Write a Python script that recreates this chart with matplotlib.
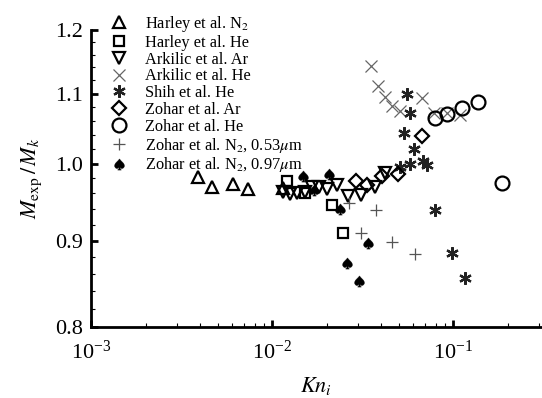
import matplotlib
matplotlib.use("Agg")
import matplotlib.pyplot as plt
from matplotlib.ticker import FixedLocator, FixedFormatter, LogLocator, NullFormatter

plt.rcParams['font.family'] = ['Liberation Serif', 'DejaVu Serif']
plt.rcParams['mathtext.fontset'] = 'stix'

# Harley et al. N2
harley_n2_kn = [0.0039, 0.00467, 0.0061, 0.00736, 0.0115]
harley_n2_m = [0.982, 0.969, 0.973, 0.966, 0.967]

# Harley et al. He
harley_he_kn = [0.0121, 0.0152, 0.0214, 0.0247]
harley_he_m = [0.976, 0.961, 0.945, 0.910]

# Arkilic et al. Ar
arkilic_ar_kn = [0.0115, 0.01256, 0.01374, 0.0152, 0.01663, 0.0182,
                 0.0201, 0.0229, 0.0263, 0.0310, 0.0371, 0.0421]
arkilic_ar_m = [0.962, 0.959, 0.960, 0.962, 0.969, 0.969,
                0.966, 0.971, 0.957, 0.958, 0.968, 0.987]

# Arkilic et al. He
arkilic_he_kn = [0.0352, 0.0385, 0.0421, 0.0460, 0.0509, 0.0674, 0.0785, 0.0927, 0.1093]
arkilic_he_m = [1.143, 1.112, 1.095, 1.082, 1.074, 1.094, 1.072, 1.072, 1.069]

# Shih et al. He
shih_he_kn = [0.0557, 0.0578, 0.0536, 0.0609, 0.0510, 0.0578,
              0.0683, 0.0718, 0.0796, 0.0987, 0.1164]
shih_he_m = [1.099, 1.072, 1.043, 1.020, 0.995, 0.999,
             1.003, 0.998, 0.939, 0.885, 0.855]

# Zohar et al. Ar
zohar_ar_kn = [0.0291, 0.0335, 0.0405, 0.0497, 0.0674]
zohar_ar_m = [0.976, 0.971, 0.983, 0.986, 1.038]

# Zohar et al. He
zohar_he_kn = [0.0796, 0.0927, 0.1122, 0.1374, 0.1865]
zohar_he_m = [1.064, 1.070, 1.078, 1.087, 0.974]

# Zohar et al. N2, 0.53um
zohar_n2a_kn = [0.0266, 0.0310, 0.0376, 0.0460, 0.0617]
zohar_n2a_m = [0.947, 0.910, 0.939, 0.899, 0.884]

# Zohar et al. N2, 0.97um
zohar_n2b_kn = [0.0148, 0.0171, 0.0206, 0.0238, 0.0260, 0.0302, 0.0339]
zohar_n2b_m = [0.983, 0.965, 0.986, 0.940, 0.873, 0.852, 0.897]

y_ticks = [0.8, 0.9, 1.0, 1.1, 1.2]
y_minor = [0.82, 0.84, 0.86, 0.88, 0.92, 0.94, 0.96, 0.98,
           1.02, 1.04, 1.06, 1.08, 1.12, 1.14, 1.16, 1.18]

fig = plt.figure(figsize=(5.42, 3.98), dpi=100)
ax = fig.add_axes([0.168, 0.178, 0.832, 0.747])

hollow = dict(linestyle='none', markerfacecolor='none', markeredgecolor='black', markeredgewidth=1.6)

ax.plot(harley_n2_kn, harley_n2_m, marker='^', markersize=8, label='Harley et al. N$_2$', **hollow)
ax.plot(harley_he_kn, harley_he_m, marker='s', markersize=7, label='Harley et al. He', **hollow)
ax.plot(arkilic_ar_kn, arkilic_ar_m, marker='v', markersize=8, label='Arkilic et al. Ar', **hollow)
ax.plot(arkilic_he_kn, arkilic_he_m, marker='x', markersize=8, linestyle='none',
        color='#666666', markeredgewidth=0.9, label='Arkilic et al. He')
ax.plot(shih_he_kn, shih_he_m, marker=(6, 2, 0), markersize=9, linestyle='none',
        color='#222222', markeredgewidth=1.6, label='Shih et al. He')
ax.plot(zohar_ar_kn, zohar_ar_m, marker='D', markersize=7, label='Zohar et al. Ar', **hollow)
ax.plot(zohar_he_kn, zohar_he_m, marker='o', markersize=10, label='Zohar et al. He', **hollow)
ax.plot(zohar_n2a_kn, zohar_n2a_m, marker='+', markersize=9, linestyle='none',
        color='#555555', markeredgewidth=0.9, label='Zohar et al. N$_2$, 0.53$\\mu$m')
ax.plot(zohar_n2b_kn, zohar_n2b_m, marker='$\\spadesuit$', markersize=8, linestyle='none',
        color='black', markeredgewidth=0.3, label='Zohar et al. N$_2$, 0.97$\\mu$m')

ax.set_xscale('log')
ax.set_yscale('log')
ax.set_xlim(1e-3, 0.31)
ax.set_ylim(0.8, 1.2)

ax.yaxis.set_major_locator(FixedLocator(y_ticks))
ax.yaxis.set_major_formatter(FixedFormatter(['%.1f' % v for v in y_ticks]))
ax.yaxis.set_minor_locator(FixedLocator(y_minor))
ax.yaxis.set_minor_formatter(NullFormatter())
ax.xaxis.set_major_locator(LogLocator(base=10, numticks=10))
ax.xaxis.set_minor_locator(LogLocator(base=10, subs=range(2, 10), numticks=20))
ax.xaxis.set_minor_formatter(NullFormatter())

for side in ['top', 'right']:
    ax.spines[side].set_visible(False)
for side in ['left', 'bottom']:
    ax.spines[side].set_linewidth(2.0)

ax.tick_params(which='major', direction='in', length=5, width=2.0, labelsize=16)
ax.tick_params(axis='x', which='major', pad=10)
ax.tick_params(axis='y', which='major', pad=6)
ax.tick_params(which='minor', direction='in', length=3, width=0.8)

ax.set_xlabel('$Kn_i$', fontsize=16, labelpad=8)
ax.set_ylabel('$M_\\mathrm{exp}\\,/\\,M_k$', fontsize=16, labelpad=8)

ax.legend(loc='upper left', bbox_to_anchor=(0.204, 0.965), bbox_transform=fig.transFigure,
          frameon=False, fontsize=11.8, handlelength=1.0, handletextpad=1.1,
          labelspacing=0.05, borderpad=0, borderaxespad=0, numpoints=1)

plt.savefig('out.png', dpi=100)
plt.close()
